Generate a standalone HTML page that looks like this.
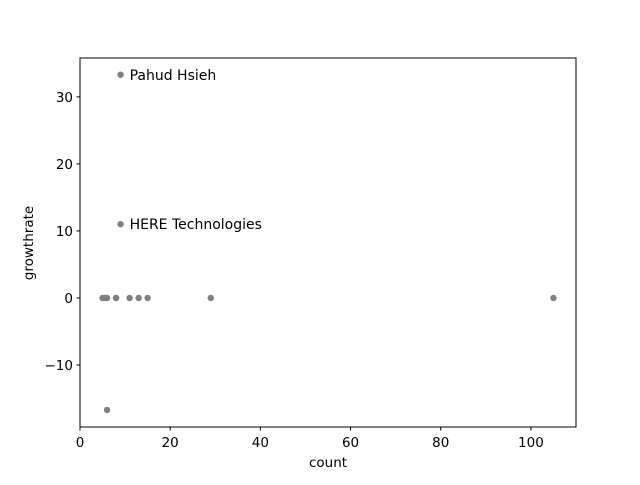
<!DOCTYPE html>
<html><head><meta charset="utf-8"><style>
body{margin:0;background:#fff;font-family:"Liberation Sans","DejaVu Sans",sans-serif}
svg text{font-family:"DejaVu Sans","Liberation Sans",sans-serif;font-size:13.5px;fill:#000}
</style></head><body>
<svg id="chart" width="640" height="480">
<rect x="0" y="0" width="640" height="480" fill="#fff"></rect>
<g id="plot"></g>
<rect x="80" y="58" width="496" height="369" fill="none" stroke="#000" stroke-width="1"></rect>
<text x="328" y="467" text-anchor="middle">count</text>
<text x="33" y="243" text-anchor="middle" transform="rotate(-90 33 243)">growthrate</text>
</svg>
<script>
const xs=[9,9,5,5.5,6,8,8,11,13,15,29,105,6];
const ys=[33.3,11,0,0,0,0,0,0,0,0,0,0,-16.7];
const labels=["Pahud Hsieh","HERE Technologies","","","","","","","","","","",""];
const xTicks=[0,20,40,60,80,100];
const yTicks=[-10,0,10,20,30];
const X0=80,X1=576,Y0=427,Y1=58,xMin=0,xMax=110,yMin=-19.25,yMax=35.8;
const sx=v=>X0+(v-xMin)/(xMax-xMin)*(X1-X0);
const sy=v=>Y0-(v-yMin)/(yMax-yMin)*(Y0-Y1);
const NS="http://www.w3.org/2000/svg";
const g=document.getElementById('plot');
function mk(t,a){const e=document.createElementNS(NS,t);for(const k in a)e.setAttribute(k,a[k]);g.appendChild(e);return e;}
xTicks.forEach(t=>{
 const l=mk('line',{x1:sx(t),x2:sx(t),y1:Y0,y2:Y0+3.5,stroke:'#000'});
 
 
 const tx=mk('text',{x:sx(t),y:Y0+20,'text-anchor':'middle'});tx.textContent=t;
 
 
});
yTicks.forEach(t=>{
 const l=mk('line',{x1:X0-3.5,x2:X0,y1:sy(t),y2:sy(t),stroke:'#000'});
 
 
 const tx=mk('text',{x:X0-7,y:sy(t)+5,'text-anchor':'end'});tx.textContent=t<0?'\u2212'+(-t):t;
 
 
});
xs.forEach((x,i)=>{
 const c=mk('circle',{cx:sx(x),cy:sy(ys[i]),r:3.2,fill:'#808080'});
 
 
 if(labels[i]){
  const t=mk('text',{x:sx(x)+9,y:sy(ys[i])+5,style:'font-size:14px'});t.textContent=labels[i];
  
  
 }
});
</script>
</body></html>
